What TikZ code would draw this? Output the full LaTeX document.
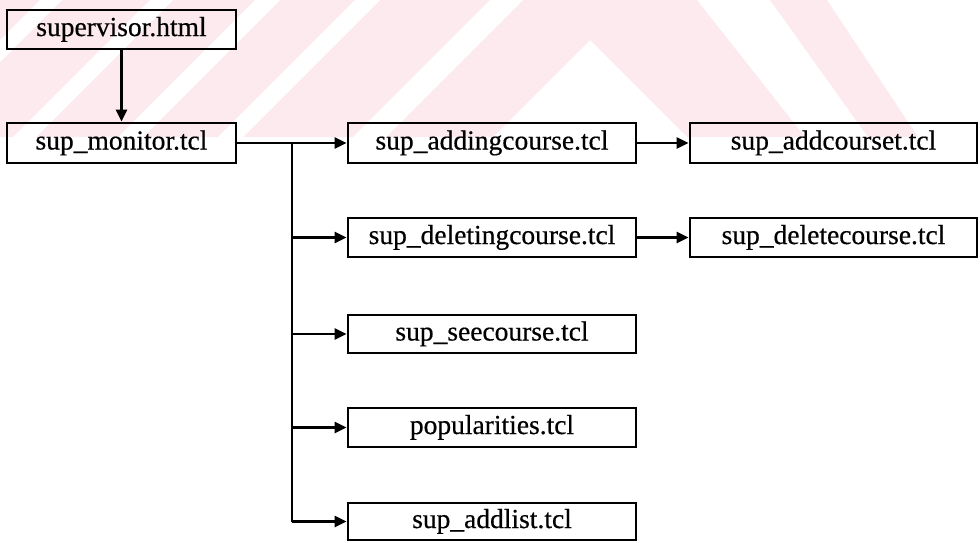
\documentclass[tikz,border=0pt]{standalone}
\usepackage{fontspec}
\setmainfont{Liberation Serif}[BoldFont={Liberation Serif},
  BoldFeatures={FakeBold=0.5}]
\usetikzlibrary{arrows.meta}

\definecolor{wmpink}{RGB}{252,234,238}

\tikzset{
  filebox/.style={draw=black, line width=2.8pt, inner sep=0pt,
    minimum height=39pt, text height=19pt, text depth=6pt,
    font=\fontsize{27.5}{30}\selectfont\bfseries},
  narrowbox/.style={filebox, minimum width=229pt},
  widebox/.style={filebox, minimum width=288pt},
  link/.style={line width=2.8pt, draw=black},
  linkarrow/.style={link, -{Triangle[length=12pt,width=11pt]}},
}

\begin{document}
\begin{tikzpicture}[x=1pt,y=-1pt]
  \useasboundingbox (0,0) rectangle (980,542);

  % pale background emblem across the top band
  \begin{scope}
    \clip (0,0) rectangle (980,137);
    \fill[wmpink] (0,0) -- (697,0) -- (805,137) -- (687,137) -- (590,40)
      -- (493,137) -- (0,137) -- cycle;
    \fill[wmpink] (770,0) -- (827,0) -- (918,137) -- (868,137) -- cycle;
    \foreach \a/\b in {40/62, 150/173, 255/280, 355/380, 490/523}
      \fill[white] (\a,0) -- (\b,0) -- (\b-137,137) -- (\a-137,137) -- cycle;
  \end{scope}

  % entry page and monitor script
  \node[narrowbox] (sup) at (121.5,29.5) {supervisor.html};
  \node[narrowbox, minimum height=40pt] (mon) at (121.5,143) {sup\_monitor.tcl};

  % scripts called from the monitor
  \node[widebox, minimum height=40pt] (add) at (492,143) {sup\_addingcourse.tcl};
  \node[widebox] (del) at (492,237.5) {sup\_deletingcourse.tcl};
  \node[widebox, minimum height=38pt] (see) at (492,334) {sup\_seecourse.tcl};
  \node[widebox] (pop) at (492,427.5) {popularities.tcl};
  \node[widebox, minimum height=37pt] (lst) at (492,521.5) {sup\_addlist.tcl};

  % follow-up scripts
  \node[widebox, minimum width=287pt, minimum height=40pt] (addc) at (833.5,143) {sup\_addcourset.tcl};
  \node[widebox, minimum width=287pt] (delc) at (833.5,237.5) {sup\_deletecourse.tcl};

  % connectors
  \draw[linkarrow] (sup) -- (mon);
  \draw[linkarrow] (mon.east) -- (add.west);
  \coordinate (trunk) at (292,143);
  \coordinate (trunkend) at (trunk |- lst.west);
  \draw[link] (trunk) -- (trunkend);
  \draw[linkarrow] (trunkend) -- (lst.west);
  \draw[linkarrow] (trunk |- del.west) -- (del.west);
  \draw[linkarrow] (trunk |- see.west) -- (see.west);
  \draw[linkarrow] (trunk |- pop.west) -- (pop.west);
  \draw[linkarrow] (add.east) -- (addc.west);
  \draw[linkarrow] (del.east) -- (delc.west);
\end{tikzpicture}
\end{document}
